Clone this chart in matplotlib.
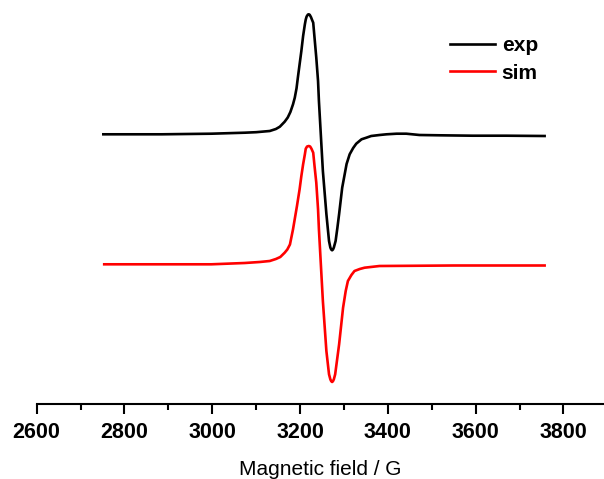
import matplotlib
matplotlib.use("Agg")
import matplotlib.pyplot as plt
from matplotlib.ticker import MultipleLocator

# Magnetic field (G) and intensities (arbitrary units, offset traces)
exp_field = [2752, 2885, 2998, 3074, 3100, 3118, 3131, 3145, 3154, 3165, 3172, 3178, 3184,
             3188, 3192, 3195, 3199, 3203, 3207, 3211, 3213, 3215, 3218, 3220, 3222, 3225,
             3227, 3230, 3233, 3237, 3241, 3243, 3252, 3260, 3266, 3269, 3271, 3273, 3275,
             3277, 3281, 3285, 3289, 3296, 3306, 3313, 3321, 3328, 3340, 3351, 3362, 3381,
             3397, 3420, 3442, 3472, 3518, 3593, 3670, 3757]
exp_int = [269.7, 269.7, 270.3, 271.3, 271.8, 272.5, 273.0, 275.0, 277.3, 282.3, 286.5, 292.0, 299.7,
           306.3, 315.7, 326.3, 339.7, 353.0, 368.0, 379.7, 384.5, 387.5, 389.5, 389.7, 389.2, 386.8,
           384.5, 381.3, 366.3, 346.3, 323.0, 303.0, 233.0, 190.0, 163.0, 156.5, 154.5, 153.7, 154.5,
           156.5, 163.0, 176.0, 190.0, 216.3, 240.0, 249.7, 256.0, 260.3, 264.7, 266.3, 268.0, 269.0,
           269.7, 270.3, 270.3, 269.0, 268.7, 268.3, 268.3, 268.0]

sim_field = [2754, 2885, 2998, 3074, 3108, 3131, 3145, 3155, 3165, 3171, 3177, 3184, 3193,
             3199, 3203, 3207, 3211, 3213, 3216, 3220, 3223, 3226, 3230, 3233, 3237, 3241,
             3243, 3252, 3260, 3266, 3269, 3271, 3273, 3275, 3277, 3280, 3289, 3298, 3304,
             3309, 3317, 3324, 3336, 3347, 3381, 3450, 3550, 3757]
sim_int = [139.7, 139.7, 139.7, 141.0, 142.0, 143.0, 145.0, 147.0, 151.3, 154.5, 159.5, 174.7, 198.0,
           214.7, 228.0, 239.7, 249.7, 255.3, 257.5, 258.0, 257.5, 255.3, 251.3, 238.0, 221.3, 194.7,
           174.7, 103.0, 53.0, 29.7, 24.7, 22.8, 22.0, 22.8, 24.7, 29.7, 59.7, 96.3, 113.0,
           123.0, 129.0, 133.0, 135.0, 136.3, 138.0, 138.2, 138.5, 138.5]

xticks = [2600, 2800, 3000, 3200, 3400, 3600, 3800]
xlabel = "Magnetic field / G"
labels = ["exp", "sim"]

plt.rcParams['font.family'] = ['Liberation Sans', 'DejaVu Sans']

fig = plt.figure(figsize=(6.04, 4.79), dpi=100)
ax = fig.add_axes([36.6 / 604, 1 - 404 / 479, 566.4 / 604, 404 / 479])

ax.plot(exp_field, exp_int, color='black', lw=1.9, label=labels[0], solid_joinstyle='round')
ax.plot(sim_field, sim_int, color='#ff0000', lw=1.9, label=labels[1], solid_joinstyle='round')

ax.set_xlim(2600, 3890)
ax.set_ylim(0, 404)

for s in ['left', 'top', 'right']:
    ax.spines[s].set_visible(False)
ax.spines['bottom'].set_linewidth(1.5)
ax.set_yticks([])
ax.set_xticks(xticks)
ax.xaxis.set_minor_locator(MultipleLocator(100))
ax.tick_params(axis='x', which='major', direction='out', length=7, width=1.5,
               labelsize=15.5, pad=6)
ax.tick_params(axis='x', which='minor', direction='out', length=4, width=1.5)
for t in ax.get_xticklabels():
    t.set_fontweight('bold')

ax.set_xlabel(xlabel, fontsize=15, labelpad=12)

leg = ax.legend(loc='upper left', bbox_to_anchor=(0.73, 0.91), frameon=False,
                borderpad=0, borderaxespad=0, handlelength=2.16, handletextpad=0.32,
                labelspacing=0.4, prop={'weight': 'bold', 'size': 15})
for h in leg.get_lines():
    h.set_linewidth(1.9)

fig.savefig('out.png', dpi=100)
